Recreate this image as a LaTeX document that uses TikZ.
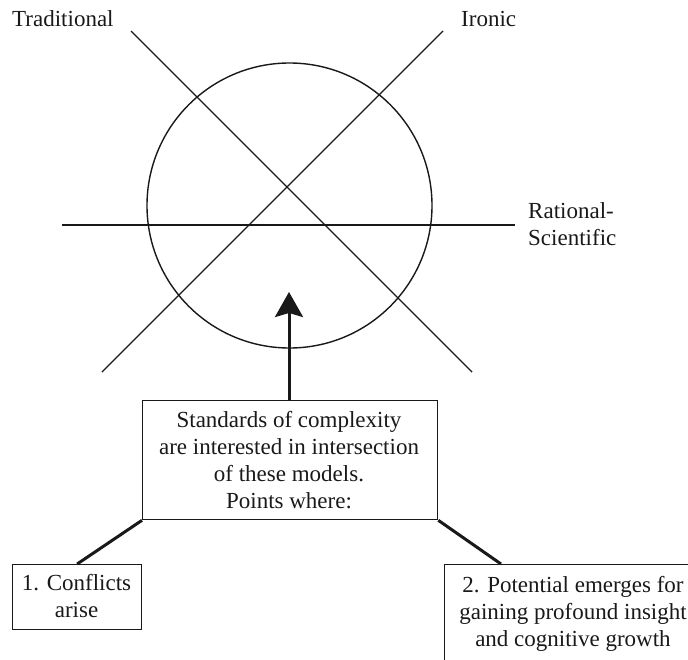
\documentclass[tikz,border=0pt]{standalone}
\usepackage{fontspec}
\setmainfont{Liberation Serif}
\usetikzlibrary{arrows.meta}
\begin{document}
\begin{tikzpicture}[x=1pt,y=-1pt,
  axisline/.style={line width=1.4pt,black!90},
  boxframe/.style={draw,line width=1.3pt,black!90,rectangle,inner sep=0pt},
  linker/.style={line width=3pt,black!90},
  pointer/.style={line width=3pt,black!90,-{Stealth[length=25pt,width=28pt,inset=4pt]}},
  words/.style={align=center,inner sep=0pt,font=\fontsize{23}{27}\selectfont,text=black!90},
  tag/.style={inner sep=0pt,font=\fontsize{23}{27}\selectfont,text=black!90,anchor=base west}]
\useasboundingbox (0,0) rectangle (688,659);
\clip (0,0) rectangle (688,659);

% the three model axes and the circle
\coordinate (tradA) at (131,31);
\coordinate (tradB) at (472,372);
\coordinate (ironA) at (443,31);
\coordinate (ironB) at (102,372);
\coordinate (ratA) at (62,225);
\coordinate (ratB) at (515,225);
\coordinate (core) at (289.5,205.5);
\draw[axisline] (tradA) -- (tradB);
\draw[axisline] (ironA) -- (ironB);
\draw[axisline] (ratA) -- (ratB);
\draw[axisline] (core) circle[radius=142.5];

\node[tag] (trad) at (12,26) {Traditional};
\node[tag] (iron) at (461,26) {Ironic};
\node[tag,align=left,anchor=north west] (rat) at (528,202) {Rational-\\Scientific};

% central box and arrow
\node[boxframe,minimum width=295pt,minimum height=119pt,anchor=north west] (hub) at (142,400) {};
\node[words,anchor=north] (hubtext) at (289,411)
  {Standards of complexity\\are interested in intersection\\of these models.\\Points where:};
\coordinate (tip) at (289,292);
\draw[pointer] (hub.north -| tip) -- (tip);

% outcome boxes
\node[boxframe,minimum width=129pt,minimum height=65pt,anchor=north west] (lbox) at (12,564) {};
\node[words,anchor=north] (ltext) at (76.5,574) {1. Conflicts\\arise};
\node[boxframe,minimum width=260pt,minimum height=130pt,anchor=north west] (rbox) at (444,564) {};
\node[words,anchor=north] (rtext) at (573,576)
  {2. Potential emerges for\\gaining profound insight\\and cognitive growth};

\draw[linker] (hub.south west) -- (lbox.north);
\draw[linker] (hub.south east) -- ([xshift=57pt]rbox.north west);
\end{tikzpicture}
\end{document}
